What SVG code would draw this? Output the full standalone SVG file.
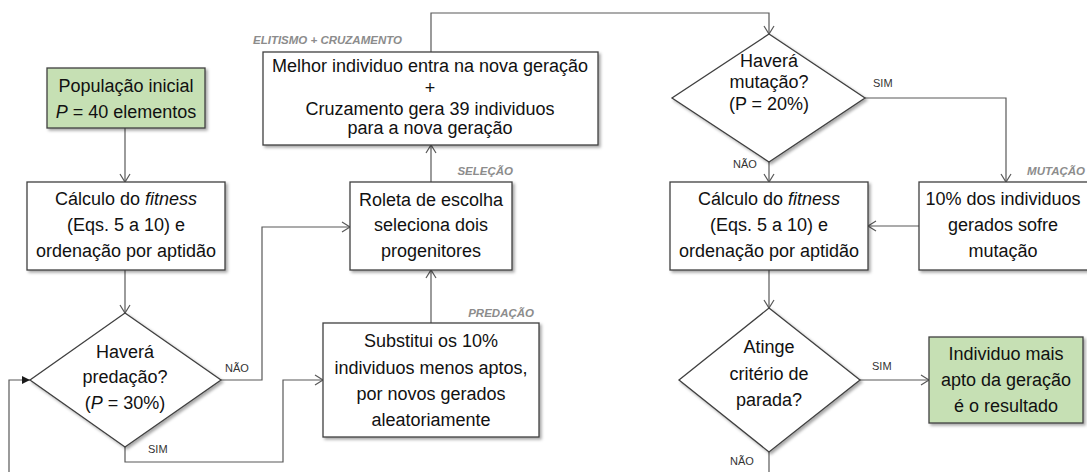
<svg xmlns="http://www.w3.org/2000/svg" width="1087" height="472" viewBox="0 0 1087 472">
<defs>
  <filter id="sh" x="-10%" y="-10%" width="125%" height="130%">
    <feDropShadow dx="2" dy="2" stdDeviation="1.5" flood-color="#000" flood-opacity="0.35"/>
  </filter>
  <marker id="open" markerUnits="userSpaceOnUse" markerWidth="12" markerHeight="12" refX="9" refY="6" orient="auto">
    <path d="M1,1 L9,6 L1,11" fill="none" stroke="#595959" stroke-width="1.2"/>
  </marker>
  <marker id="fill" markerUnits="userSpaceOnUse" markerWidth="10" markerHeight="10" refX="8" refY="4" orient="auto">
    <path d="M0,0 L8,4 L0,8 z" fill="#1a1a1a"/>
  </marker>
  <style>
    .box{fill:#fff;stroke:#404040;stroke-width:1.3;filter:url(#sh)}
    .green{fill:#c6e0b4}
    .t{font-family:"Liberation Sans",Arial,sans-serif;font-size:18px;fill:#111;text-anchor:middle}
    .lbl{font-family:"Liberation Sans",Arial,sans-serif;font-size:11.5px;font-weight:bold;font-style:italic;fill:#8c8c8c}
    .cl{font-family:"Liberation Sans",Arial,sans-serif;font-size:11px;fill:#333}
    .c{fill:none;stroke:#595959;stroke-width:1.2}
    .i{font-style:italic}
  </style>
</defs>
<rect width="1087" height="472" fill="#fff"/>

<g id="connectors">
  <path class="c" d="M125,128 V182" marker-end="url(#open)"/>
  <path class="c" d="M125,270 V313" marker-end="url(#open)"/>
  <path class="c" d="M221,380 H262 V227 H350" marker-end="url(#open)"/>
  <path class="c" d="M125,447 V462 H283 V380 H323" marker-end="url(#open)"/>
  <path class="c" d="M431,323 V270" marker-end="url(#open)"/>
  <path class="c" d="M431,182 V145" marker-end="url(#open)"/>
  <path class="c" d="M431,52 V13 H769 V34" marker-end="url(#open)"/>
  <path class="c" d="M769,162 V182" marker-end="url(#open)"/>
  <path class="c" d="M865,98 H1006 V182" marker-end="url(#open)"/>
  <path class="c" d="M919,226 H868" marker-end="url(#open)"/>
  <path class="c" d="M769,270 V308" marker-end="url(#open)"/>
  <path class="c" d="M860,380 H929" marker-end="url(#open)"/>
  <path class="c" d="M769,452 V472"/>
  <path class="c" d="M9,472 V380 H30" marker-end="url(#fill)"/>
  <text class="cl" x="225" y="372">NÃO</text>
  <text class="cl" x="148" y="453">SIM</text>
  <text class="cl" x="873" y="87">SIM</text>
  <text class="cl" x="733" y="168">NÃO</text>
  <text class="cl" x="872" y="370">SIM</text>
  <text class="cl" x="730" y="465">NÃO</text>
  <text class="lbl" x="253" y="44">ELITISMO + CRUZAMENTO</text>
  <text class="lbl" x="513" y="175" text-anchor="end">SELEÇÃO</text>
  <text class="lbl" x="534" y="317" text-anchor="end">PREDAÇÃO</text>
  <text class="lbl" x="1085" y="175" text-anchor="end">MUTAÇÃO</text>
</g>

<g id="pop">
  <rect class="box green" x="47" y="68" width="158" height="60"/>
  <text class="t" x="126" y="92">População inicial</text>
  <text class="t" x="126" y="118"><tspan class="i">P</tspan> = 40 elementos</text>
</g>

<g id="fitnessL">
  <rect class="box" x="27" y="182" width="198" height="88"/>
  <text class="t" x="126" y="205">Cálculo do <tspan class="i">fitness</tspan></text>
  <text class="t" x="126" y="231">(Eqs. 5 a 10) e</text>
  <text class="t" x="126" y="257">ordenação por aptidão</text>
</g>

<g id="predacao">
  <polygon class="box" points="125,313 221,380 125,447 30,380"/>
  <text class="t" x="125" y="358">Haverá</text>
  <text class="t" x="125" y="383">predação?</text>
  <text class="t" x="125" y="409">(<tspan class="i">P</tspan> = 30%)</text>
</g>

<g id="substitui">
  <rect class="box" x="323" y="323" width="216" height="114"/>
  <text class="t" x="431" y="347">Substitui os 10%</text>
  <text class="t" x="431" y="374">individuos  menos aptos,</text>
  <text class="t" x="431" y="400">por novos gerados</text>
  <text class="t" x="431" y="426">aleatoriamente</text>
</g>

<g id="roleta">
  <rect class="box" x="350" y="182" width="162" height="88"/>
  <text class="t" x="431" y="206">Roleta de escolha</text>
  <text class="t" x="431" y="231">seleciona dois</text>
  <text class="t" x="431" y="257">progenitores</text>
</g>

<g id="melhor">
  <rect class="box" x="263" y="52" width="335" height="93"/>
  <text class="t" x="430" y="72">Melhor individuo entra na nova geração</text>
  <text class="t" x="430" y="94">+</text>
  <text class="t" x="430" y="115">Cruzamento gera 39 individuos</text>
  <text class="t" x="430" y="134">para a nova geração</text>
</g>

<g id="mutacaoQ">
  <polygon class="box" points="769,34 865,98 769,162 672,98"/>
  <text class="t" x="769" y="67">Haverá</text>
  <text class="t" x="769" y="88">mutação?</text>
  <text class="t" x="769" y="110">(P = 20%)</text>
</g>

<g id="fitnessR">
  <rect class="box" x="670" y="182" width="198" height="88"/>
  <text class="t" x="769" y="205">Cálculo do <tspan class="i">fitness</tspan></text>
  <text class="t" x="769" y="231">(Eqs. 5 a 10) e</text>
  <text class="t" x="769" y="257">ordenação por aptidão</text>
</g>

<g id="mutacaoBox">
  <rect class="box" x="919" y="182" width="172" height="88"/>
  <text class="t" x="1003" y="205">10% dos individuos</text>
  <text class="t" x="1003" y="231">gerados sofre</text>
  <text class="t" x="1003" y="257">mutação</text>
</g>

<g id="parada">
  <polygon class="box" points="769,308 860,380 769,452 679,380"/>
  <text class="t" x="769" y="353">Atinge</text>
  <text class="t" x="769" y="380">critério de</text>
  <text class="t" x="769" y="406">parada?</text>
</g>

<g id="resultado">
  <rect class="box green" x="929" y="337" width="154" height="86"/>
  <text class="t" x="1006" y="360">Individuo  mais</text>
  <text class="t" x="1006" y="386">apto da geração</text>
  <text class="t" x="1006" y="412">é o resultado</text>
</g>
</svg>
